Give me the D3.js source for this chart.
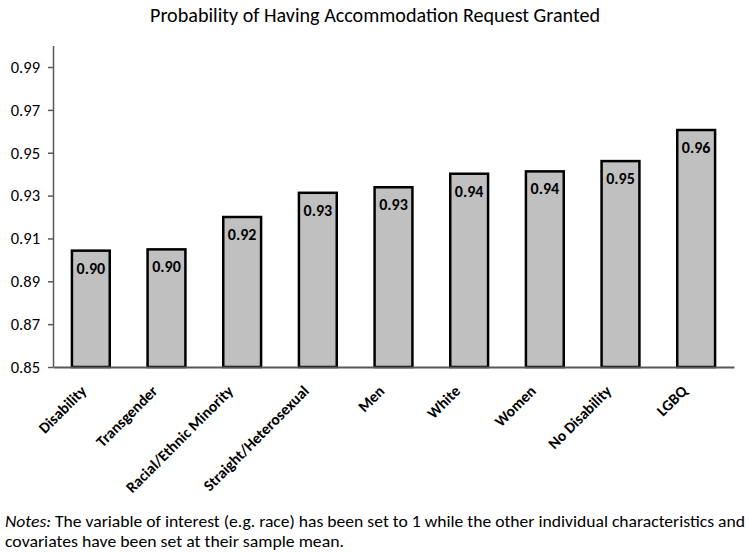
<!DOCTYPE html>
<html>
<head>
<meta charset="utf-8">
<script src="https://cdn.jsdelivr.net/npm/d3@7/dist/d3.min.js"></script>
<style>
  body { margin: 0; background: #fff; }
  svg { display: block; font-family: Carlito, Lato, "Open Sans", sans-serif; }
</style>
</head>
<body>
<svg id="chart" width="749" height="552"></svg>
<script>
const categories = ["Disability", "Transgender", "Racial/Ethnic Minority", "Straight/Heterosexual", "Men", "White", "Women", "No Disability", "LGBQ"];
const values = [0.9043, 0.9049, 0.9200, 0.9313, 0.9339, 0.9402, 0.9413, 0.9461, 0.9606];
const valueLabels = ["0.90", "0.90", "0.92", "0.93", "0.93", "0.94", "0.94", "0.95", "0.96"];
const yTicks = [0.85, 0.87, 0.89, 0.91, 0.93, 0.95, 0.97, 0.99];
const titleText = "Probability of Having Accommodation Request Granted";
const notesLine1 = " The variable of interest (e.g. race) has been set to 1 while the other individual characteristics and";
const notesLine2 = "covariates have been set at their sample mean.";

(function () {
const svg = d3.select("#chart");
const mLeft = 53, mRight = 734, mTop = 45.6, mBottom = 367;
const ff = "Carlito, Lato, sans-serif";

const x = d3.scaleBand().domain(categories).range([mLeft, mRight]).paddingInner(0.5).paddingOuter(0.25);
const y = d3.scaleLinear().domain([0.85, 1.0]).range([mBottom, mTop]);

svg.append("text")
  .attr("x", 375).attr("y", 22)
  .attr("text-anchor", "middle")
  .attr("font-size", 20)
  .attr("font-family", ff)
  .attr("fill", "#000")
  .attr("textLength", 450)
  .attr("lengthAdjust", "spacingAndGlyphs")
  .text(titleText);

// bars
svg.append("g").selectAll("rect").data(values).join("rect")
  .attr("x", (d, i) => x(categories[i]))
  .attr("y", d => y(d))
  .attr("width", x.bandwidth())
  .attr("height", d => y(0.85) - y(d))
  .attr("fill", "#c0c0c0")
  .attr("stroke", "#000")
  .attr("stroke-width", 2.5);

// value labels
svg.append("g").selectAll("text").data(values).join("text")
  .attr("x", (d, i) => x(categories[i]) + x.bandwidth() / 2)
  .attr("y", d => y(d) + 23)
  .attr("text-anchor", "middle")
  .attr("font-size", 16)
  .attr("font-weight", "bold")
  .attr("font-family", ff)
  .attr("fill", "#000")
  .text((d, i) => valueLabels[i]);

// y axis
const yAxis = svg.append("g").attr("transform", `translate(${mLeft},0)`)
  .call(d3.axisLeft(y).tickValues(yTicks).tickFormat(d3.format(".2f")).tickSize(5).tickSizeOuter(0));
yAxis.select(".domain").attr("stroke", "#595959").attr("stroke-width", 1.5);
yAxis.selectAll(".tick line").attr("stroke", "#595959").attr("stroke-width", 1.5);
yAxis.selectAll(".tick text").attr("font-size", 16.5).attr("fill", "#000").attr("font-family", ff).attr("x", -13);

// x axis
const xAxis = svg.append("g").attr("transform", `translate(0,${mBottom})`)
  .call(d3.axisBottom(x).tickSize(0).tickSizeOuter(0));
xAxis.select(".domain").attr("stroke", "#595959").attr("stroke-width", 2);
xAxis.selectAll(".tick text")
  .attr("font-size", 15.5)
  .attr("font-weight", "bold")
  .attr("fill", "#000")
  .attr("font-family", ff)
  .attr("text-anchor", "end")
  .attr("dy", 0)
  .attr("y", 0)
  .attr("transform", "translate(-8,25) rotate(-45)");
xAxis.selectAll(".tick text").each(function () {
  const len = this.getComputedTextLength();
  const tick = this.parentNode.transform.baseVal.consolidate();
  const cx = tick ? tick.matrix.e : 0;
  const startX = cx - 8 - len * Math.SQRT1_2;
  if (startX < 45) {
    const shift = 45 - startX;
    d3.select(this).attr("transform", `translate(${-8 + shift},25) rotate(-45)`);
  }
});

// notes
const n1 = svg.append("text").attr("x", 5).attr("y", 527).attr("font-size", 16.5)
  .attr("fill", "#000").attr("font-family", ff)
  .attr("textLength", 740).attr("lengthAdjust", "spacingAndGlyphs");
n1.append("tspan").attr("font-style", "italic").text("Notes:");
n1.append("tspan").text(notesLine1);
svg.append("text").attr("x", 5).attr("y", 547).attr("font-size", 16.5)
  .attr("fill", "#000").attr("font-family", ff)
  .attr("textLength", 339).attr("lengthAdjust", "spacingAndGlyphs")
  .text(notesLine2);
})();
</script>
</body>
</html>
